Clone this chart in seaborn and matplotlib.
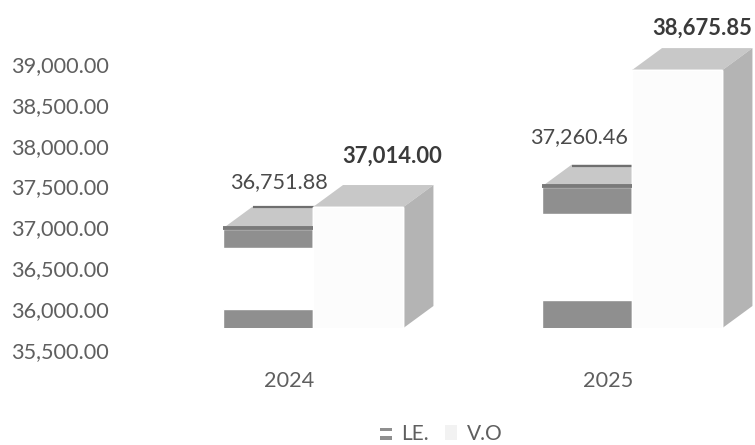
import matplotlib
matplotlib.use("Agg")
import matplotlib.pyplot as plt
from matplotlib.legend_handler import HandlerBase
from matplotlib.patches import Patch, Polygon, Rectangle
import pandas as pd
import seaborn as sns

# Values
years = ["2024", "2025"]
le_values = [36751.88, 37260.46]
vo_values = [37014.00, 38675.85]
le_band_top = [36516, 36928]
le_band_bottom = [35776, 35885]
y_ticks = [35500, 36000, 36500, 37000, 37500, 38000, 38500, 39000]

DARK = "#8f8f8f"
TOP = "#c8c8c8"
SIDE = "#b4b4b4"
FRONT = "#fcfcfc"
TEXT = "#5f5f5f"

sns.set_theme(style="white")
plt.rcParams["font.family"] = ["Lato", "DejaVu Sans"]

W, H = 755, 445
fig = plt.figure(figsize=(W / 100, H / 100), dpi=100)


def make_axes(bottom_px):
    # axes box given in pixels, always up to the top of the figure
    left = 115
    return fig.add_axes([left / W, 1 - bottom_px / H, (W - left) / W, bottom_px / H])


def layer(le_part):
    # V.O stays in every layer so the LE. bars keep their dodge slot
    return pd.DataFrame({
        "year": years * 2,
        "value": le_part + vo_values,
        "series": ["LE."] * 2 + ["V.O"] * 2,
    })


# Bars
ax = make_axes(328)
ax.axis("off")

common = dict(x="year", y="value", hue="series", order=years, hue_order=["LE.", "V.O"],
              width=0.567, gap=0, saturation=1, errorbar=None, legend=False, ax=ax)
sns.barplot(data=layer(le_values), palette={"LE.": DARK, "V.O": FRONT}, zorder=3, **common)
le_bars = list(ax.containers[0])
vo_bars = list(ax.containers[1])
sns.barplot(data=layer(le_band_top), palette={"LE.": "white", "V.O": FRONT}, zorder=3.1, **common)
sns.barplot(data=layer(le_band_bottom), palette={"LE.": DARK, "V.O": FRONT}, zorder=3.2, **common)

y_low = 35546
ax.set_xlim((115 - 313) / 319, (755 - 313) / 319)
ax.set_ylim(y_low, y_low + 328 / 0.0824)

# Fake 3D depth, 30 px right and 22 px up
dx = 30 / 319
dy = 22 / 0.0824

for bar in le_bars:
    x0, x1 = bar.get_x(), bar.get_x() + bar.get_width()
    v = bar.get_height()
    ax.add_patch(Polygon([(x0, v), (x1, v), (x1 + dx, v + dy), (x0 + dx, v + dy)],
                         facecolor=TOP, edgecolor="none", zorder=2))
    ax.plot([x0, x1], [v + 12, v + 12], color="#7a7a7a", lw=2.8, zorder=3.3, solid_capstyle="butt")
    ax.plot([x0 + dx, x1 + dx], [v + dy - 10, v + dy - 10], color="#6f6f6f", lw=1.6, zorder=2.1,
            solid_capstyle="butt")

for bar in vo_bars:
    x0, x1 = bar.get_x(), bar.get_x() + bar.get_width()
    v = bar.get_height()
    ax.add_patch(Polygon([(x0, v), (x1, v), (x1 + dx, v + dy), (x0 + dx, v + dy)],
                         facecolor=TOP, edgecolor="none", zorder=2.5))
    ax.add_patch(Polygon([(x1, y_low), (x1, v), (x1 + dx, v + dy), (x1 + dx, y_low + dy)],
                         facecolor=SIDE, edgecolor="none", zorder=2.5))

# Value labels, offsets in px from the middle of the bar top
le_offsets = [(11, 47), (-8, 50)]
vo_offsets = [(34, 51), (25, 42)]
for bars, offsets, weight, color, size in [(le_bars, le_offsets, "normal", "#4a4a4a", 15.6),
                                           (vo_bars, vo_offsets, "bold", "#3a3a3a", 15.8)]:
    for bar, off in zip(bars, offsets):
        ax.annotate(f"{bar.get_height():,.2f}",
                    (bar.get_x() + bar.get_width() / 2, bar.get_height()),
                    xytext=(off[0] * 0.72, off[1] * 0.72), textcoords="offset points",
                    ha="center", va="center", fontsize=size, fontweight=weight, color=color,
                    annotation_clip=False, zorder=5)

# Tick labels sit off from the bars, so they get their own axes
tick_ax = make_axes(363)
tick_ax.patch.set_alpha(0)
tick_ax.set_xlim((115 - 313 + 24) / 319, (755 - 313 + 24) / 319)
tick_ax.set_ylim(35500 - 13 / 40.86 * 500, 39000 + 64 / 40.86 * 500)
tick_ax.set_xticks([0, 1], years)
tick_ax.set_yticks(y_ticks, [f"{t:,.2f}" for t in y_ticks])
tick_ax.tick_params(axis="both", length=0, labelsize=15.6, labelcolor=TEXT)
tick_ax.tick_params(axis="y", pad=4.3)
tick_ax.tick_params(axis="x", pad=6)
sns.despine(ax=tick_ax, left=True, bottom=True)


class BandHandler(HandlerBase):
    # LE. swatch: dark strip, white, dark strip
    def create_artists(self, legend, orig_handle, xdescent, ydescent, width, height, fontsize, trans):
        h = height / 4
        return [Rectangle((xdescent, ydescent + i * 2.4 * h), width, h, facecolor=DARK,
                          edgecolor="none", transform=trans) for i in range(2)]


le_handle = Patch(label="LE.")
vo_handle = Patch(facecolor="#f2f2f2", edgecolor="none", label="V.O")
fig.legend(handles=[le_handle, vo_handle], handler_map={le_handle: BandHandler()},
           loc="center", bbox_to_anchor=(441 / W, 1 - 434 / H), ncol=2, frameon=False,
           fontsize=15, labelcolor=TEXT, handlelength=0.6, handleheight=0.7,
           handletextpad=0.45, columnspacing=0.75)

fig.savefig("out.png", dpi=100)
